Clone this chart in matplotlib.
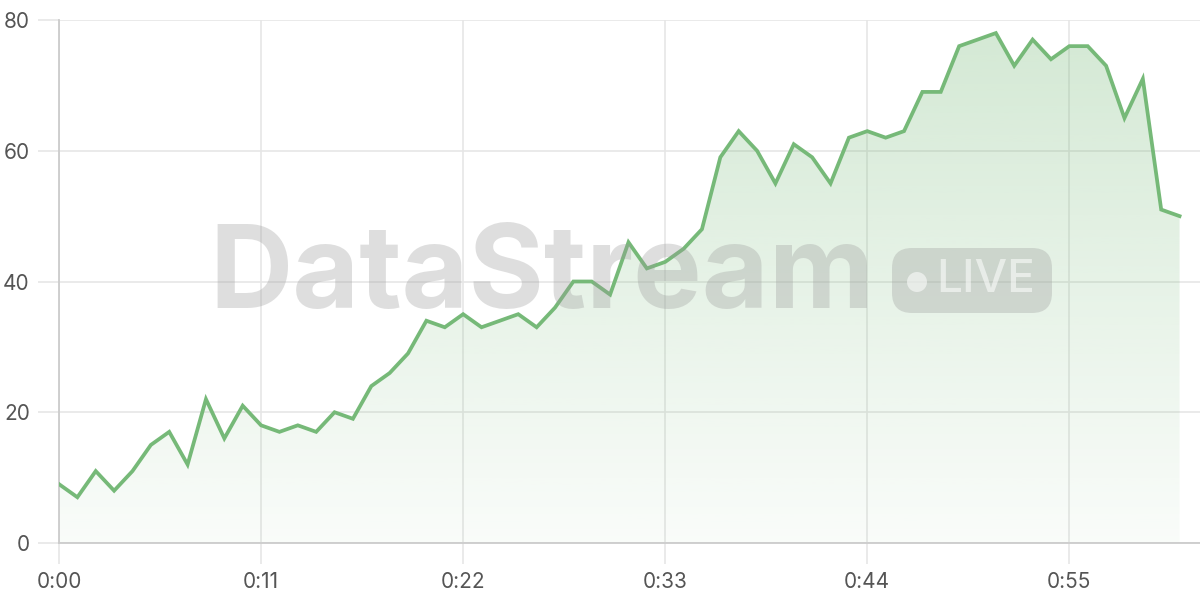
import matplotlib
matplotlib.use("Agg")
import matplotlib.pyplot as plt
import numpy as np
from matplotlib.patches import FancyBboxPatch, Circle, Polygon
from matplotlib.transforms import IdentityTransform

plt.rcParams["font.family"] = ["Inter", "DejaVu Sans"]

values = [9, 7, 11, 8, 11, 15, 17, 12, 22, 16, 21, 18, 17, 18, 17, 20, 19, 24, 26, 29,
          34, 33, 35, 33, 34, 35, 33, 36, 40, 40, 38, 46, 42, 43, 45, 48, 59, 63, 60, 55,
          61, 59, 55, 62, 63, 62, 63, 69, 69, 76, 77, 78, 73, 77, 74, 76, 76, 73, 65, 71,
          51, 50]
tick_pos = [0, 11, 22, 33, 44, 55]
tick_labels = ["0:00", "0:11", "0:22", "0:33", "0:44", "0:55"]
y_ticks = [0, 20, 40, 60, 80]

LINE = "#76b978"
H = 600
x = np.arange(len(values))

fig = plt.figure(figsize=(12, 6), dpi=100)
ax = fig.add_axes([59 / 1200, 57 / 600, 1141 / 1200, 523 / 600])
ax.set_xlim(0, 1141 / 18.37)
ax.set_ylim(0, 80)

# gradient fill under the line
verts = [(0, 0)] + list(zip(x, values)) + [(x[-1], 0)]
poly = Polygon(verts, closed=True, facecolor="none", edgecolor="none")
ax.add_patch(poly)
grad = np.zeros((256, 1, 4))
grad[:, 0, :3] = matplotlib.colors.to_rgb(LINE)
grad[:, 0, 3] = np.linspace(0.04, 0.32, 256)
im = ax.imshow(grad, extent=[0, x[-1], 0, 80], origin="lower", aspect="auto", zorder=1)
im.set_clip_path(poly)

ax.plot(x, values, color=LINE, lw=2.7, zorder=4, solid_joinstyle="miter")

# watermark (pixel coordinates, origin bottom-left)
px = IdentityTransform()
fig.text(209 / 1200, 1 - 308 / 600, "DataStream", ha="left", va="baseline",
         fontsize=83, fontweight="bold",
         color="#9a9a9a", alpha=0.32, zorder=3)
badge = FancyBboxPatch((892, H - 313), 160, 65,
                       boxstyle="round,pad=0,rounding_size=20",
                       transform=px, facecolor="#9a9a9a", alpha=0.32,
                       edgecolor="none", zorder=3)
fig.add_artist(badge)
dot = Circle((917, H - 282), 10, transform=px, facecolor="white", alpha=0.55,
             edgecolor="none", zorder=5)
fig.add_artist(dot)
fig.text(986 / 1200, 1 - 280 / 600, "LIVE", ha="center", va="center", fontsize=33,
         fontweight="medium", color="white", alpha=0.55, zorder=5)

ax.set_xticks(tick_pos)
ax.set_xticklabels(tick_labels)
ax.set_yticks(y_ticks)
ax.grid(True, color="#e6e6e6", lw=1.2, zorder=0)
ax.set_axisbelow(True)
for s in ["top", "right"]:
    ax.spines[s].set_visible(False)
for s in ["left", "bottom"]:
    ax.spines[s].set_color("#cccccc")
    ax.spines[s].set_linewidth(1.3)
ax.tick_params(axis="both", colors="#e6e6e6", labelcolor="#555555", labelsize=15,
               length=15, width=1.2)
ax.tick_params(axis="x", pad=6)
ax.tick_params(axis="y", pad=6)

fig.savefig("out.png", dpi=100)
